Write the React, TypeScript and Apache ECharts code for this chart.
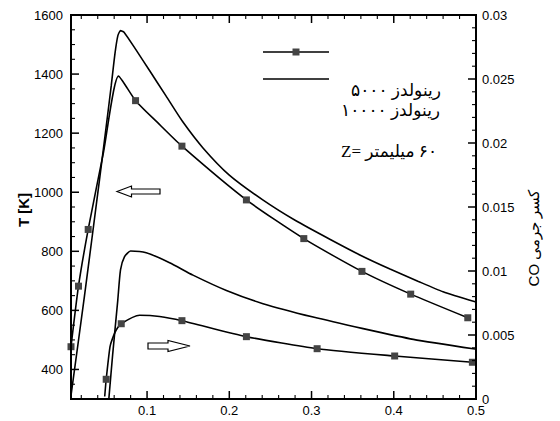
import React, { useEffect, useRef } from "react";
import * as echarts from "echarts";

// x axis (distance)
const xMin = 0.0075;
const xMax = 0.5;
const xStep = 0.1;
const xTicks = [0.1, 0.2, 0.3, 0.4, 0.5];
const xMinorTicks = [0.02, 0.04, 0.06, 0.08, 0.12, 0.14, 0.16, 0.18, 0.22, 0.24, 0.26, 0.28, 0.32, 0.34, 0.36, 0.38, 0.42, 0.44, 0.46, 0.48];
// left axis: temperature [K]
const tMin = 300;
const tMax = 1600;
const tStep = 200;
const tTicks = [400, 600, 800, 1000, 1200, 1400, 1600];
const tMinorTicks = [350, 450, 500, 550, 650, 700, 750, 850, 900, 950, 1050, 1100, 1150, 1250, 1300, 1350, 1450, 1500, 1550];
// right axis: CO mass fraction
const coMin = 0;
const coMax = 0.03;
const coStep = 0.005;
const coTicks = [0, 0.005, 0.01, 0.015, 0.02, 0.025, 0.03];
const coMinorTicks = [0.001, 0.002, 0.003, 0.004, 0.006, 0.007, 0.008, 0.009, 0.011, 0.012, 0.013, 0.014, 0.016, 0.017, 0.018, 0.019, 0.021, 0.022, 0.023, 0.024, 0.026, 0.027, 0.028, 0.029];

// T, Re = 5000 (square markers where flagged)
const t5000X = [0.0075, 0.0166, 0.0284, 0.047, 0.0653, 0.086, 0.112, 0.1424, 0.2208, 0.2906, 0.3613, 0.4206, 0.49];
const t5000Y = [477, 682, 874, 1135, 1393, 1310, 1238, 1156, 974, 843, 732, 655, 575];
const t5000Marked = [1, 1, 1, 0, 0, 1, 0, 1, 1, 1, 1, 1, 1];

// T, Re = 10000
const t10000X = [0.0074, 0.0239, 0.0421, 0.0503, 0.0564, 0.061, 0.0645, 0.0677, 0.072, 0.0868, 0.103, 0.123, 0.143, 0.168, 0.2, 0.2407, 0.28, 0.3228, 0.36, 0.3954, 0.43, 0.46, 0.499];
const t10000Y = [310, 649, 1041, 1222, 1360, 1470, 1530, 1547, 1542, 1481, 1412, 1326, 1240, 1150, 1058, 974, 905, 840, 786, 740, 698, 663, 629];

// CO, Re = 5000 (square markers where flagged)
const co5000X = [0.0485, 0.0503, 0.0549, 0.0576, 0.0625, 0.0686, 0.0909, 0.1152, 0.1424, 0.2208, 0.3068, 0.4011, 0.4956];
const co5000Y = [0.0002, 0.00154, 0.00408, 0.00466, 0.00539, 0.00588, 0.00654, 0.00645, 0.00612, 0.00487, 0.00393, 0.00336, 0.00287];
const co5000Marked = [0, 1, 0, 0, 0, 1, 0, 0, 1, 1, 1, 1, 1];

// CO, Re = 10000
const co10000X = [0.0535, 0.0583, 0.0644, 0.0677, 0.0726, 0.0799, 0.099, 0.1274, 0.1558, 0.1965, 0.241, 0.302, 0.3628, 0.4238, 0.4989];
const co10000Y = [0, 0.00357, 0.00773, 0.01008, 0.01112, 0.01156, 0.01143, 0.01065, 0.00968, 0.00848, 0.00745, 0.0064, 0.0055, 0.00466, 0.0039];

const legendLabels = ["رینولدز ۵۰۰۰", "رینولدز ۱۰۰۰۰"];
const zLabel = "Z= \u200F۶۰ میلیمتر";
const leftTitle = "T [K]";
const rightTitle = "CO کسر جرمی";

const SANS = "'Liberation Sans', Arial, Helvetica, sans-serif";
const SERIF = "'Liberation Serif', 'Times New Roman', 'DejaVu Serif', 'DejaVu Sans', serif";

function pts(xs: number[], ys: number[], marks?: number[]) {
  return xs.map((x, i) => ({
    value: [x, ys[i]],
    symbol: marks && marks[i] ? "rect" : "none",
  }));
}

function lineSeries(name: string, data: any[], yAxisIndex: number) {
  return {
    name,
    type: "line",
    xAxisIndex: 0,
    yAxisIndex,
    data,
    smooth: 0.2,
    symbol: "rect",
    symbolSize: 7,
    showSymbol: true,
    showAllSymbol: true,
    lineStyle: { color: "#000", width: 1.6 },
    itemStyle: { color: "#444", borderWidth: 0 },
  };
}

const isMultiple = (v: number, step: number) => {
  const r = Math.round(v / step) * step;
  return Math.abs(v - r) < step * 1e-6;
};

function txt(x: number, y: number, text: string, font: string, rotation = 0, align = "left") {
  return { type: "text", x, y, rotation, silent: true, style: { text, font, fill: "#000", align, verticalAlign: "middle" } };
}

function seg(x1: number, y1: number, x2: number, y2: number, w: number) {
  return { type: "line", silent: true, shape: { x1, y1, x2, y2 }, style: { stroke: "#000", lineWidth: w } };
}

const annotations: any[] = [
  seg(263, 52, 329, 52, 1.6),
  { type: "rect", silent: true, shape: { x: 292.5, y: 48.5, width: 7, height: 7 }, style: { fill: "#444" } },
  seg(263, 79, 329, 79, 1.6),
  txt(351, 90, legendLabels[0], `17px ${SERIF}`),
  txt(341, 110, legendLabels[1], `17px ${SERIF}`),
  txt(341, 151, zLabel, `17px ${SERIF}`),
  txt(23, 210, leftTitle, `bold 15px ${SANS}`, Math.PI / 2, "center"),
  txt(533, 238, rightTitle, `15px ${SANS}`, Math.PI / 2, "center"),
  {
    type: "polygon",
    silent: true,
    shape: { points: [[117, 191.5], [131.5, 186], [131.5, 189], [160, 189], [160, 194], [131.5, 194], [131.5, 197]] },
    style: { fill: "#fff", stroke: "#000", lineWidth: 1.2 },
  },
  {
    type: "polygon",
    silent: true,
    shape: { points: [[190, 346], [168, 340.5], [168, 343], [148, 343], [148, 349], [168, 349], [168, 351.5]] },
    style: { fill: "#fff", stroke: "#000", lineWidth: 1.2 },
  },
];

export default function App() {
  const ref = useRef<HTMLDivElement>(null);
  const overlayRef = useRef<HTMLDivElement>(null);
  useEffect(() => {
    if (!ref.current || !overlayRef.current) return;
    const chart = echarts.init(ref.current, undefined, { renderer: "svg" });
    const overlay = echarts.init(overlayRef.current, undefined, { renderer: "svg" });
    const hidden = { axisLine: { show: false }, axisTick: { show: false }, minorTick: { show: false }, splitLine: { show: false } };
    const labelStyle = { color: "#000", fontSize: 13, fontFamily: SANS };
    const option: any = {
      animation: false,
      grid: { left: 71, top: 15, width: 405, height: 384 },
      xAxis: [
        {
          type: "value", position: "bottom", min: xMin, max: xMax, splitNumber: 5, minInterval: xStep, maxInterval: xStep,
          ...hidden,
          axisLabel: {
            ...labelStyle, margin: 5,
            formatter: (v: number) => (isMultiple(v, xStep) ? String(+v.toFixed(2)) : ""),
          },
        },
      ],
      yAxis: [
        {
          type: "value", position: "left", min: tMin, max: tMax, splitNumber: 6, minInterval: tStep, maxInterval: tStep,
          ...hidden,
          axisLabel: {
            ...labelStyle, margin: 8,
            formatter: (v: number) => (isMultiple(v, tStep) ? String(v) : ""),
          },
        },
        {
          type: "value", position: "right", min: coMin, max: coMax, interval: coStep,
          ...hidden,
          axisLabel: { ...labelStyle, margin: 6, formatter: (v: number) => String(+v.toFixed(3)) },
        },
      ],
      series: [
        lineSeries("T Re5000", pts(t5000X, t5000Y, t5000Marked), 0),
        lineSeries("T Re10000", pts(t10000X, t10000Y), 0),
        lineSeries("CO Re5000", pts(co5000X, co5000Y, co5000Marked), 1),
        lineSeries("CO Re10000", pts(co10000X, co10000Y), 1),
      ],
    };
    chart.setOption(option);

    // frame and inward ticks, positioned through the chart's own axis scales
    const X = (v: number) => chart.convertToPixel({ xAxisIndex: 0 } as any, v) as unknown as number;
    const YT = (v: number) => chart.convertToPixel({ yAxisIndex: 0 } as any, v) as unknown as number;
    const YC = (v: number) => chart.convertToPixel({ yAxisIndex: 1 } as any, v) as unknown as number;
    const L = X(xMin);
    const R = X(xMax);
    const T = YT(tMax);
    const B = YT(tMin);
    const axisEls: any[] = [];
    const ok = [L, R, T, B].every((n) => typeof n === "number" && isFinite(n));
    if (ok) {
      xTicks.forEach((v) => {
        const x = X(v);
        axisEls.push(seg(x, B, x, B - 8, 1.5), seg(x, T, x, T + 8, 1.5));
      });
      xMinorTicks.forEach((v) => {
        const x = X(v);
        axisEls.push(seg(x, B, x, B - 4, 1.1), seg(x, T, x, T + 4, 1.1));
      });
      tTicks.forEach((v) => {
        const y = YT(v);
        axisEls.push(seg(L, y, L + 8, y, 1.5));
      });
      tMinorTicks.forEach((v) => {
        const y = YT(v);
        axisEls.push(seg(L, y, L + 4, y, 1.1));
      });
      coTicks.forEach((v) => {
        const y = YC(v);
        axisEls.push(seg(R, y, R - 8, y, 1.5));
      });
      coMinorTicks.forEach((v) => {
        const y = YC(v);
        axisEls.push(seg(R, y, R - 4, y, 1.1));
      });
      axisEls.push(seg(L, T, R, T, 2), seg(L, B, R, B, 2), seg(L, T - 1, L, B + 1, 2), seg(R, T - 1, R, B + 1, 2));
    }
    overlay.setOption({ animation: false, graphic: [...axisEls, ...annotations] });
    return () => {
      chart.dispose();
      overlay.dispose();
    };
  }, []);
  return (
    <div>
      <div
        ref={ref}
        style={{ position: "fixed", left: 0, top: 0, width: 560, height: 421, background: "#fff" }}
      />
      <div
        ref={overlayRef}
        style={{ position: "fixed", left: 0, top: 0, width: 560, height: 421, pointerEvents: "none" }}
      />
    </div>
  );
}
